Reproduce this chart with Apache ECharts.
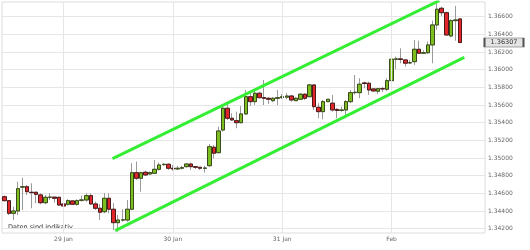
<!DOCTYPE html>
<html><head><meta charset="utf-8">
<script src="https://cdn.jsdelivr.net/npm/echarts@6/dist/echarts.min.js"></script>
<style>html,body{margin:0;padding:0;background:#fff}#c{width:530px;height:250px}</style>
</head><body><div id="c"></div>
<script>
// Hourly candles, first candle 28 Jan 11:00
const startHour = 11;
const dayLabels = ['28 Jan', '29 Jan', '30 Jan', '31 Jan', 'Feb'];
const emptySlots = 5;
// [open, close, low, high]
const ohlc = [
[1.34562,1.34517,1.34508,1.34576],
[1.34517,1.34374,1.34355,1.34525],
[1.34374,1.34400,1.34298,1.34449],
[1.34400,1.34653,1.34355,1.34732],
[1.34670,1.34675,1.34412,1.34777],
[1.34675,1.34619,1.34582,1.34695],
[1.34612,1.34608,1.34431,1.34714],
[1.34612,1.34589,1.34488,1.34619],
[1.34582,1.34494,1.34476,1.34601],
[1.34494,1.34555,1.34476,1.34582],
[1.34555,1.34557,1.34525,1.34601],
[1.34557,1.34544,1.34494,1.34555],
[1.34555,1.34468,1.34457,1.34562],
[1.34480,1.34457,1.34449,1.34494],
[1.34476,1.34517,1.34460,1.34533],
[1.34514,1.34476,1.34468,1.34521],
[1.34476,1.34517,1.34460,1.34533],
[1.34521,1.34525,1.34506,1.34574],
[1.34525,1.34574,1.34506,1.34601],
[1.34574,1.34480,1.34468,1.34601],
[1.34480,1.34431,1.34412,1.34506],
[1.34431,1.34386,1.34298,1.34480],
[1.34392,1.34544,1.34374,1.34601],
[1.34544,1.34420,1.34374,1.34601],
[1.34420,1.34268,1.34185,1.34488],
[1.34268,1.34298,1.34166,1.34355],
[1.34298,1.34300,1.34279,1.34420],
[1.34298,1.34420,1.34279,1.34525],
[1.34420,1.34834,1.34410,1.34940],
[1.34834,1.34771,1.34751,1.34959],
[1.34771,1.34834,1.34619,1.34845],
[1.34839,1.34808,1.34797,1.34857],
[1.34819,1.34836,1.34808,1.34845],
[1.34827,1.34872,1.34819,1.34978],
[1.34872,1.34921,1.34857,1.34947],
[1.34925,1.34929,1.34910,1.34940],
[1.34929,1.34884,1.34865,1.34940],
[1.34884,1.34876,1.34857,1.34921],
[1.34876,1.34884,1.34865,1.34910],
[1.34884,1.34891,1.34870,1.34910],
[1.34902,1.34932,1.34893,1.34944],
[1.34932,1.34902,1.34865,1.34947],
[1.34902,1.34895,1.34876,1.34910],
[1.34895,1.34884,1.34865,1.34898],
[1.34884,1.34886,1.34834,1.34910],
[1.34913,1.35128,1.34902,1.35159],
[1.35122,1.35054,1.34997,1.35148],
[1.35060,1.35306,1.35054,1.35355],
[1.35317,1.35563,1.35298,1.35589],
[1.35563,1.35450,1.35431,1.35620],
[1.35450,1.35431,1.35419,1.35506],
[1.35423,1.35400,1.35337,1.35525],
[1.35400,1.35499,1.35393,1.35589],
[1.35499,1.35694,1.35487,1.35770],
[1.35694,1.35638,1.35589,1.35733],
[1.35638,1.35733,1.35600,1.35770],
[1.35733,1.35683,1.35676,1.35751],
[1.35683,1.35676,1.35600,1.35883],
[1.35676,1.35665,1.35612,1.35688],
[1.35649,1.35676,1.35634,1.35690],
[1.35676,1.35683,1.35600,1.35770],
[1.35683,1.35694,1.35668,1.35725],
[1.35688,1.35702,1.35665,1.35733],
[1.35702,1.35657,1.35638,1.35714],
[1.35649,1.35676,1.35646,1.35690],
[1.35665,1.35722,1.35657,1.35736],
[1.35722,1.35676,1.35657,1.35733],
[1.35694,1.35827,1.35688,1.35838],
[1.35827,1.35581,1.35544,1.35835],
[1.35574,1.35525,1.35450,1.35620],
[1.35525,1.35638,1.35439,1.35657],
[1.35638,1.35665,1.35638,1.35668],
[1.35620,1.35544,1.35525,1.35714],
[1.35550,1.35538,1.35450,1.35563],
[1.35538,1.35544,1.35525,1.35581],
[1.35544,1.35638,1.35450,1.35657],
[1.35638,1.35740,1.35620,1.35770],
[1.35740,1.35744,1.35717,1.35940],
[1.35740,1.35835,1.35676,1.35903],
[1.35850,1.35843,1.35789,1.35864],
[1.35846,1.35770,1.35714,1.35864],
[1.35782,1.35759,1.35750,1.35785],
[1.35756,1.35785,1.35725,1.35793],
[1.35785,1.35782,1.35747,1.35804],
[1.35778,1.35876,1.35759,1.35903],
[1.35876,1.36118,1.35827,1.36186],
[1.36118,1.36122,1.36005,1.36147],
[1.36122,1.36115,1.36073,1.36242],
[1.36110,1.36073,1.36034,1.36118],
[1.36076,1.36080,1.36065,1.36110],
[1.36091,1.36231,1.36053,1.36336],
[1.36231,1.36186,1.36178,1.36328],
[1.36186,1.36192,1.36178,1.36220],
[1.36192,1.36280,1.36178,1.36317],
[1.36280,1.36506,1.36073,1.36555],
[1.36506,1.36684,1.36450,1.36752],
[1.36695,1.36645,1.36608,1.36713],
[1.36645,1.36393,1.36382,1.36657],
[1.36382,1.36555,1.36367,1.36571],
[1.36555,1.36563,1.36328,1.36721],
[1.36574,1.36307,1.36300,1.36582]
];
const lastPrice = 1.36307;
const yTicks = [1.342,1.344,1.346,1.348,1.350,1.352,1.354,1.356,1.358,1.360,1.362,1.364,1.366];
// channel lines: [category position, value]
const upperChannel = [[23.76, 1.34992], [95.45, 1.36781]];
const lowerChannel = [[24.35, 1.34177], [100.95, 1.36140]];

const total = ohlc.length + emptySlots;
const categories = [];
for (let i = 0; i < total; i++) {
  const h = (startHour + i) % 24;
  const d = Math.floor((startHour + i) / 24);
  categories.push(d + '|' + h);
}
const midnight = categories.filter(c => c.endsWith('|0'));
const dayName = c => dayLabels[+c.split('|')[0]];

const wickData = ohlc.map(r => [r[0], r[1], r[2], r[3]]);
const bodyData = ohlc.map(r => [r[0], r[1], Math.min(r[0], r[1]), Math.max(r[0], r[1])]);

const FONT = 'DejaVu Sans';
const chart = echarts.init(document.getElementById('c'), null, {renderer: 'canvas'});
chart.setOption({
  animation: false,
  backgroundColor: '#fff',
  grid: {left: 2, right: 45, top: 2, bottom: 17, show: true, borderColor: '#dcdcdc', borderWidth: 1, backgroundColor: '#fff'},
  xAxis: [{
    type: 'category', data: categories, boundaryGap: true,
    axisLine: {show: false}, axisTick: {show: false},
    axisLabel: {
      interval: (i, v) => v.endsWith('|0'),
      formatter: v => dayName(v),
      fontFamily: FONT, fontSize: 6, color: '#666', margin: 3
    },
    splitLine: {show: false}
  }, {
    type: 'value', min: -0.5, max: total - 0.5, show: false
  }],
  yAxis: {
    type: 'value', position: 'right', min: 1.34151, max: 1.36766, scale: true,
    axisLine: {show: false},
    axisTick: {show: false, customValues: yTicks},
    axisLabel: {customValues: yTicks, formatter: v => v.toFixed(5), fontFamily: FONT, fontSize: 6, color: '#666', margin: 3},
    splitLine: {show: true, lineStyle: {color: '#e6e6e6', width: 1}}
  },
  series: [{
    type: 'candlestick', data: wickData, barWidth: 4, z: 2,
    itemStyle: {color: 'rgba(0,0,0,0)', color0: 'rgba(0,0,0,0)', borderColor: '#9a9a9a', borderColor0: '#9a9a9a', borderWidth: 1},
    markLine: {
      silent: true, symbol: 'none', animation: false,
      label: {show: false},
      lineStyle: {color: '#e6e6e6', type: 'solid', width: 1},
      data: midnight.map(c => ({xAxis: c}))
    }
  }, {
    type: 'candlestick', data: bodyData, barWidth: 4, z: 3,
    itemStyle: {color: '#7cbd1f', color0: '#e2262b', borderColor: '#3a4a1a', borderColor0: '#4a1a1a', borderWidth: 1}
  }, {
    type: 'line', xAxisIndex: 1, data: upperChannel, symbol: 'none', z: 5,
    lineStyle: {color: '#33ee33', width: 3}
  }, {
    type: 'line', xAxisIndex: 1, data: lowerChannel, symbol: 'none', z: 5,
    lineStyle: {color: '#33ee33', width: 3},
    markPoint: {
      silent: true, animation: false,
      data: [{
        coord: [total - 0.5, lastPrice],
        symbol: 'rect', symbolSize: [39, 9], symbolOffset: [19, 0],
        itemStyle: {color: '#e4e4e4', borderColor: '#555', borderWidth: 1},
        label: {
          show: true, position: 'inside', formatter: () => lastPrice.toFixed(5),
          fontFamily: FONT, fontSize: 6.5, color: '#333'
        }
      }]
    }
  }],
  graphic: [{
    type: 'text', left: 8, top: 224,
    style: {text: 'Daten sind indikativ', fontFamily: FONT, fontSize: 6.5, fill: '#333'}
  }]
});
</script></body></html>
